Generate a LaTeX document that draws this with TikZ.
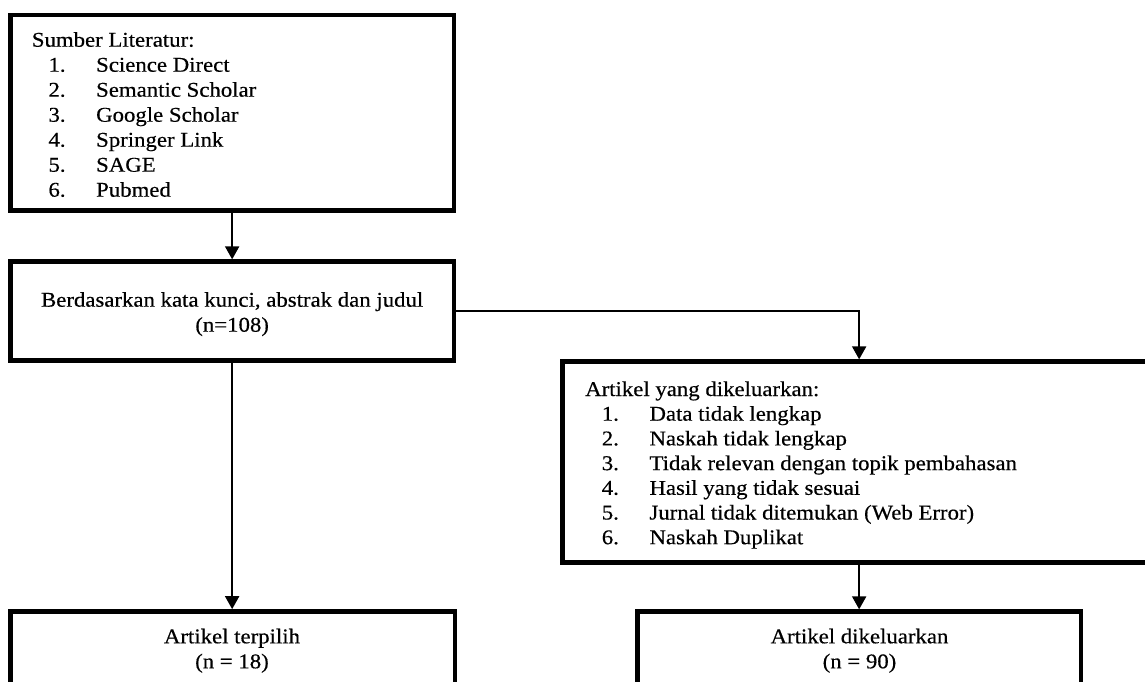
\documentclass[tikz,border=0pt]{standalone}
\usepackage{fontspec}
\setmainfont{Liberation Serif}[FakeStretch=1.085,FakeBold=0.4]
\usetikzlibrary{arrows.meta,calc}
\newcommand\litem[2]{\hspace*{16.6pt}\makebox[47.7pt][l]{#1}#2}
\begin{document}
\begin{tikzpicture}[x=1pt,y=-1pt,
  box/.style={draw=black,line width=4.7pt,inner sep=0pt},
  txt/.style={inner sep=0pt,font=\fontsize{21}{25}\selectfont},
  txtb/.style={inner sep=0pt,font=\fontsize{21}{24.7}\selectfont},
  conn/.style={line width=2pt,-{Triangle[length=13pt,width=14pt]}}]
\useasboundingbox (0,0) rectangle (1145,682);
\clip (0,0) rectangle (1145,682);
\fill[white] (0,0) rectangle (1145,682);
% boxes
\node[box,minimum width=443.7pt,minimum height=195.7pt] (b1) at (232.15,112.85) {};
\node[box,minimum width=443.7pt,minimum height=99pt] (b2) at (232.15,311.2) {};
\node[box,minimum width=597.7pt,minimum height=200.6pt] (b3) at (861.15,462) {};
\node[box,minimum width=444.6pt,minimum height=100pt] (b4) at (232.7,661.5) {};
\node[box,minimum width=443.7pt,minimum height=100pt] (b5) at (859.15,661.7) {};
% texts
\node[txt,anchor=base west] (t1) at (31.7,46.7) {\begin{tabular}[t]{@{}l@{}}
Sumber Literatur:\\
\litem{1.}{Science Direct}\\
\litem{2.}{Semantic Scholar}\\
\litem{3.}{Google Scholar}\\
\litem{4.}{Springer Link}\\
\litem{5.}{SAGE}\\
\litem{6.}{Pubmed}
\end{tabular}};
\node[txt,anchor=base] (t2) at (232.15,306.7) {\begin{tabular}[t]{@{}c@{}}
Berdasarkan kata kunci, abstrak dan judul\\
(n=108)
\end{tabular}};
\node[txtb,anchor=base west] (t3) at (585,396) {\begin{tabular}[t]{@{}l@{}}
Artikel yang dikeluarkan:\\
\litem{1.}{Data tidak lengkap}\\
\litem{2.}{Naskah tidak lengkap}\\
\litem{3.}{Tidak relevan dengan topik pembahasan}\\
\litem{4.}{Hasil yang tidak sesuai}\\
\litem{5.}{Jurnal tidak ditemukan (Web Error)}\\
\litem{6.}{Naskah Duplikat}
\end{tabular}};
\node[txt,anchor=base] (t4) at (232,643.3) {\begin{tabular}[t]{@{}c@{}}
Artikel terpilih\\
(n = 18)
\end{tabular}};
\node[txt,anchor=base] (t5) at (859.5,643.3) {\begin{tabular}[t]{@{}c@{}}
Artikel dikeluarkan\\
(n = 90)
\end{tabular}};
% connectors
\draw[conn] (b1.south) -- (b2.north);
\draw[conn] (b2.south) -- (b2.south |- b4.north);
\draw[conn] (b2.east) -| (b5.north |- b3.north);
\draw[conn] (b5.north |- b3.south) -- (b5.north);
\end{tikzpicture}
\end{document}
